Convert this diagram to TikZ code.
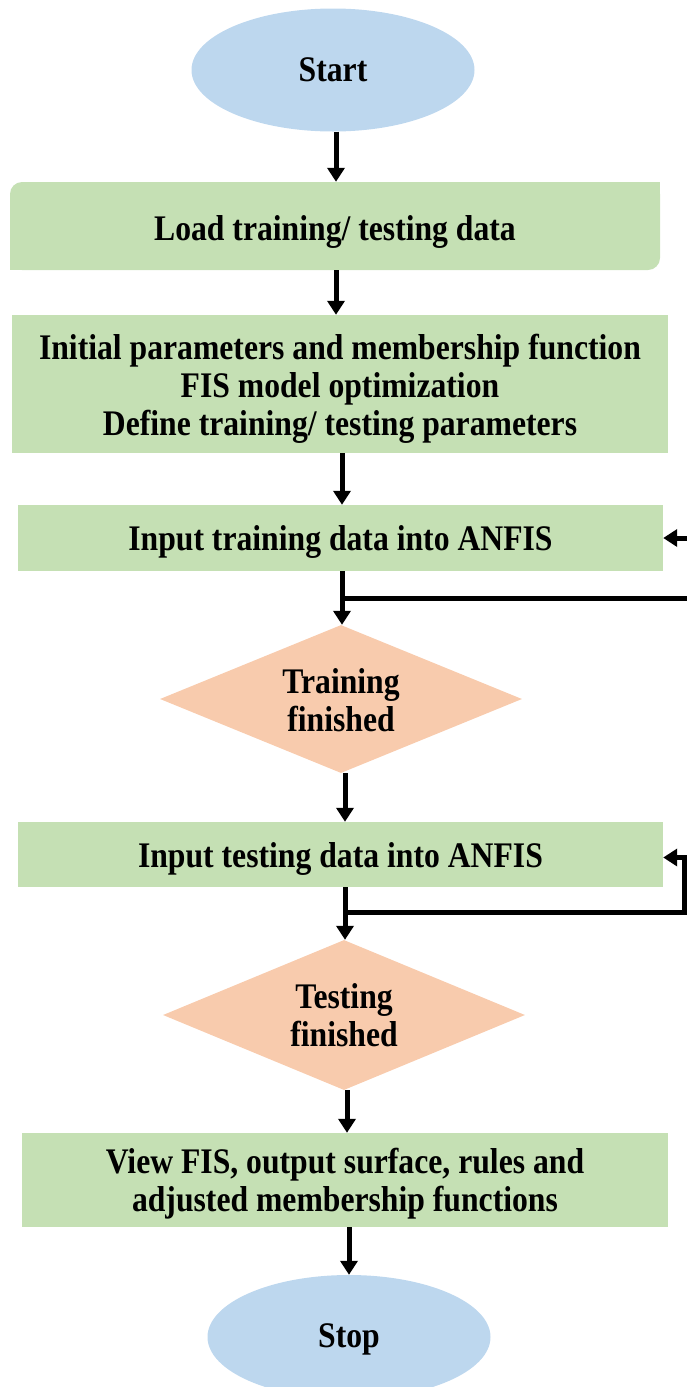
\documentclass[tikz,border=0pt]{standalone}
\usepackage{fontspec}
\setmainfont{Liberation Serif}[FakeStretch=0.88]
\usetikzlibrary{shapes.geometric,arrows.meta}

\definecolor{termblue}{HTML}{BDD7EE}
\definecolor{procgreen}{HTML}{C5E0B4}
\definecolor{decorange}{HTML}{F8CBAD}

% a strut on the first line sets the text slightly low in its shape
\newcommand{\lowstrut}[1]{\rule{0pt}{#1}}

\tikzset{
  txt/.style={font=\fontsize{36}{38}\selectfont\bfseries, align=center, text=black, inner sep=0pt},
  term/.style={txt, ellipse, fill=termblue, minimum width=283pt, minimum height=123pt},
  proc/.style={txt, rectangle, fill=procgreen},
  decision/.style={txt, diamond, fill=decorange, aspect=2.45},
  flow/.style={line width=5pt, draw=black},
  arr/.style={flow, -{Triangle[width=17pt,length=14pt]}},
}

\begin{document}
\begin{tikzpicture}[x=1pt, y=-1pt]
\useasboundingbox (0,0) rectangle (687,1387);

% terminals, process boxes and decisions
\node[term] (start) at (333,70) {Start};

\node[proc, rounded corners=12pt, minimum width=650pt, minimum height=88pt] (load) at (335,226)
  {\lowstrut{36pt}Load training/ testing data};
% square off the top-right and bottom-left corners of the load box
\fill[procgreen] (load.north east) rectangle ++(-20,20);
\fill[procgreen] (load.south west) rectangle ++(20,-20);

\node[proc, minimum width=656pt, minimum height=138pt] (params) at (340,384)
  {\lowstrut{35pt}Initial parameters and membership function\\FIS model optimization\\Define training/ testing parameters};

\node[proc, minimum width=645pt, minimum height=66pt] (train) at (340.5,538)
  {\lowstrut{33pt}Input training data into ANFIS};

\node[decision, minimum width=362pt, minimum height=148pt] (dtrain) at (341,699)
  {\lowstrut{28pt}Training\\finished};

\node[proc, minimum width=645pt, minimum height=65pt] (test) at (340.5,854.5)
  {\lowstrut{33pt}Input testing data into ANFIS};

\node[decision, minimum width=362pt, minimum height=150pt] (dtest) at (344,1015) {Testing\\finished};

\node[proc, minimum width=646pt, minimum height=94pt] (view) at (345,1180)
  {\lowstrut{33pt}View FIS, output surface, rules and\\adjusted membership functions};

\node[term, minimum height=124pt] (stop) at (349,1337) {\lowstrut{29pt}Stop};

% main flow
\coordinate (a1) at (336,0);
\draw[arr] (start.south -| a1) -- (load.north -| a1);
\draw[arr] (load.south -| a1) -- (params.north -| a1);
\coordinate (a2) at (342,0);
\draw[arr] (params.south -| a2) -- (train.north -| a2);
\draw[arr] (train.south -| a2) -- (dtrain.north -| a2);
\coordinate (a3) at (345,0);
\draw[arr] (dtrain.south -| a3) -- (test.north -| a3);
\draw[arr] (test.south -| a3) -- (dtest.north -| a3);
\coordinate (a4) at (347,0);
\draw[arr] (dtest.south -| a4) -- (view.north -| a4);
\coordinate (a5) at (349,0);
\draw[arr] (view.south -| a5) -- (stop.north -| a5);

% feedback loops back into the ANFIS input boxes
\coordinate (j1) at (340,598);
\coordinate (r1) at (692,598);
\draw[arr] (j1) -- (r1) |- (train.east);

\coordinate (j2) at (343,912);
\coordinate (r2) at (684.5,912);
\draw[arr] (j2) -- (r2) |- ([yshift=-3pt]test.east);
\end{tikzpicture}
\end{document}
